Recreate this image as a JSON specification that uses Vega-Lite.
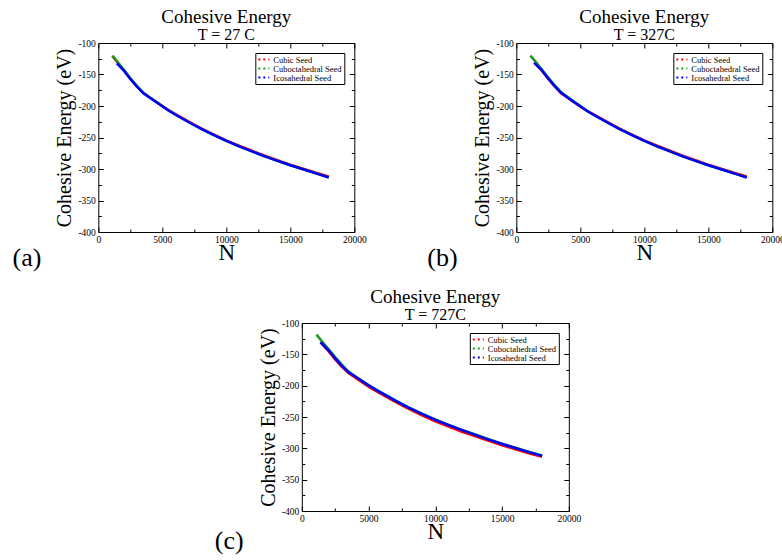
{
  "$schema": "https://vega.github.io/schema/vega-lite/v6.json",
  "padding": {"left": 12, "top": 7, "right": 0, "bottom": 0},
  "background": "white",
  "config": {"view": {"stroke": "black", "strokeWidth": 1}, "font": "Liberation Serif"},
  "datasets": {
    "a": [
      {"seed":"Cubic Seed","N":1100,"E":-121},{"seed":"Cubic Seed","N":1500,"E":-131},{"seed":"Cubic Seed","N":2000,"E":-143.5},{"seed":"Cubic Seed","N":2500,"E":-156.5},{"seed":"Cubic Seed","N":3000,"E":-168.5},{"seed":"Cubic Seed","N":3500,"E":-179},{"seed":"Cubic Seed","N":4000,"E":-186},{"seed":"Cubic Seed","N":4500,"E":-193},{"seed":"Cubic Seed","N":5000,"E":-200},{"seed":"Cubic Seed","N":5500,"E":-206.5},{"seed":"Cubic Seed","N":6000,"E":-212.5},{"seed":"Cubic Seed","N":7000,"E":-224},{"seed":"Cubic Seed","N":8000,"E":-235},{"seed":"Cubic Seed","N":9000,"E":-245},{"seed":"Cubic Seed","N":10000,"E":-254.5},{"seed":"Cubic Seed","N":11000,"E":-263},{"seed":"Cubic Seed","N":12000,"E":-271},{"seed":"Cubic Seed","N":13000,"E":-279},{"seed":"Cubic Seed","N":14000,"E":-286},{"seed":"Cubic Seed","N":15000,"E":-293},{"seed":"Cubic Seed","N":16000,"E":-299.5},{"seed":"Cubic Seed","N":17000,"E":-306},{"seed":"Cubic Seed","N":18000,"E":-312},
      {"seed":"Cuboctahedral Seed","N":1100,"E":-120},{"seed":"Cuboctahedral Seed","N":1500,"E":-130},{"seed":"Cuboctahedral Seed","N":2000,"E":-142.5},{"seed":"Cuboctahedral Seed","N":2500,"E":-155.5},{"seed":"Cuboctahedral Seed","N":3000,"E":-167.5},{"seed":"Cuboctahedral Seed","N":3500,"E":-178.5},{"seed":"Cuboctahedral Seed","N":4000,"E":-186},{"seed":"Cuboctahedral Seed","N":4500,"E":-193},{"seed":"Cuboctahedral Seed","N":5000,"E":-200},{"seed":"Cuboctahedral Seed","N":5500,"E":-207},{"seed":"Cuboctahedral Seed","N":6000,"E":-213.5},{"seed":"Cuboctahedral Seed","N":7000,"E":-225},{"seed":"Cuboctahedral Seed","N":8000,"E":-236},{"seed":"Cuboctahedral Seed","N":9000,"E":-246},{"seed":"Cuboctahedral Seed","N":10000,"E":-255.5},{"seed":"Cuboctahedral Seed","N":11000,"E":-264},{"seed":"Cuboctahedral Seed","N":12000,"E":-272},{"seed":"Cuboctahedral Seed","N":13000,"E":-280},{"seed":"Cuboctahedral Seed","N":14000,"E":-287},{"seed":"Cuboctahedral Seed","N":15000,"E":-294},{"seed":"Cuboctahedral Seed","N":16000,"E":-300.5},{"seed":"Cuboctahedral Seed","N":17000,"E":-307},{"seed":"Cuboctahedral Seed","N":18000,"E":-313},
      {"seed":"Icosahedral Seed","N":1450,"E":-132.5},{"seed":"Icosahedral Seed","N":2000,"E":-144},{"seed":"Icosahedral Seed","N":2500,"E":-157},{"seed":"Icosahedral Seed","N":3000,"E":-169},{"seed":"Icosahedral Seed","N":3500,"E":-179.5},{"seed":"Icosahedral Seed","N":4000,"E":-186.5},{"seed":"Icosahedral Seed","N":4500,"E":-193.5},{"seed":"Icosahedral Seed","N":5000,"E":-200.5},{"seed":"Icosahedral Seed","N":5500,"E":-207.5},{"seed":"Icosahedral Seed","N":6000,"E":-213.5},{"seed":"Icosahedral Seed","N":7000,"E":-225},{"seed":"Icosahedral Seed","N":8000,"E":-236},{"seed":"Icosahedral Seed","N":9000,"E":-246},{"seed":"Icosahedral Seed","N":10000,"E":-255.5},{"seed":"Icosahedral Seed","N":11000,"E":-264},{"seed":"Icosahedral Seed","N":12000,"E":-272},{"seed":"Icosahedral Seed","N":13000,"E":-280},{"seed":"Icosahedral Seed","N":14000,"E":-287},{"seed":"Icosahedral Seed","N":15000,"E":-294},{"seed":"Icosahedral Seed","N":16000,"E":-300.5},{"seed":"Icosahedral Seed","N":17000,"E":-307},{"seed":"Icosahedral Seed","N":18000,"E":-313.5}
    ],
    "b": [
      {"seed":"Cubic Seed","N":1400,"E":-131},{"seed":"Cubic Seed","N":2000,"E":-144},{"seed":"Cubic Seed","N":2500,"E":-157},{"seed":"Cubic Seed","N":3000,"E":-169},{"seed":"Cubic Seed","N":3500,"E":-180},{"seed":"Cubic Seed","N":4000,"E":-187},{"seed":"Cubic Seed","N":4500,"E":-194},{"seed":"Cubic Seed","N":5000,"E":-201},{"seed":"Cubic Seed","N":5500,"E":-207.5},{"seed":"Cubic Seed","N":6000,"E":-213},{"seed":"Cubic Seed","N":7000,"E":-224},{"seed":"Cubic Seed","N":8000,"E":-235},{"seed":"Cubic Seed","N":9000,"E":-245},{"seed":"Cubic Seed","N":10000,"E":-254.5},{"seed":"Cubic Seed","N":11000,"E":-263},{"seed":"Cubic Seed","N":12000,"E":-271},{"seed":"Cubic Seed","N":13000,"E":-279},{"seed":"Cubic Seed","N":14000,"E":-286},{"seed":"Cubic Seed","N":15000,"E":-293},{"seed":"Cubic Seed","N":16000,"E":-299.5},{"seed":"Cubic Seed","N":17000,"E":-306},{"seed":"Cubic Seed","N":18000,"E":-312},
      {"seed":"Cuboctahedral Seed","N":1100,"E":-120},{"seed":"Cuboctahedral Seed","N":1500,"E":-129.5},{"seed":"Cuboctahedral Seed","N":2000,"E":-142},{"seed":"Cuboctahedral Seed","N":2500,"E":-155},{"seed":"Cuboctahedral Seed","N":3000,"E":-167},{"seed":"Cuboctahedral Seed","N":3500,"E":-178},{"seed":"Cuboctahedral Seed","N":4000,"E":-185.5},{"seed":"Cuboctahedral Seed","N":4500,"E":-193},{"seed":"Cuboctahedral Seed","N":5000,"E":-200},{"seed":"Cuboctahedral Seed","N":5500,"E":-207},{"seed":"Cuboctahedral Seed","N":6000,"E":-213.5},{"seed":"Cuboctahedral Seed","N":7000,"E":-225},{"seed":"Cuboctahedral Seed","N":8000,"E":-236},{"seed":"Cuboctahedral Seed","N":9000,"E":-246},{"seed":"Cuboctahedral Seed","N":10000,"E":-255.5},{"seed":"Cuboctahedral Seed","N":11000,"E":-264},{"seed":"Cuboctahedral Seed","N":12000,"E":-272},{"seed":"Cuboctahedral Seed","N":13000,"E":-280},{"seed":"Cuboctahedral Seed","N":14000,"E":-287},{"seed":"Cuboctahedral Seed","N":15000,"E":-294},{"seed":"Cuboctahedral Seed","N":16000,"E":-300.5},{"seed":"Cuboctahedral Seed","N":17000,"E":-307},{"seed":"Cuboctahedral Seed","N":18000,"E":-313},
      {"seed":"Icosahedral Seed","N":1400,"E":-131.5},{"seed":"Icosahedral Seed","N":2000,"E":-143.5},{"seed":"Icosahedral Seed","N":2500,"E":-156.5},{"seed":"Icosahedral Seed","N":3000,"E":-168.5},{"seed":"Icosahedral Seed","N":3500,"E":-179},{"seed":"Icosahedral Seed","N":4000,"E":-186.5},{"seed":"Icosahedral Seed","N":4500,"E":-193.5},{"seed":"Icosahedral Seed","N":5000,"E":-200.5},{"seed":"Icosahedral Seed","N":5500,"E":-207.5},{"seed":"Icosahedral Seed","N":6000,"E":-213.5},{"seed":"Icosahedral Seed","N":7000,"E":-225},{"seed":"Icosahedral Seed","N":8000,"E":-236},{"seed":"Icosahedral Seed","N":9000,"E":-246},{"seed":"Icosahedral Seed","N":10000,"E":-255.5},{"seed":"Icosahedral Seed","N":11000,"E":-264},{"seed":"Icosahedral Seed","N":12000,"E":-272},{"seed":"Icosahedral Seed","N":13000,"E":-280},{"seed":"Icosahedral Seed","N":14000,"E":-287},{"seed":"Icosahedral Seed","N":15000,"E":-294},{"seed":"Icosahedral Seed","N":16000,"E":-300.5},{"seed":"Icosahedral Seed","N":17000,"E":-307},{"seed":"Icosahedral Seed","N":18000,"E":-313.5}
    ],
    "c": [
      {"seed":"Cubic Seed","N":1400,"E":-131},{"seed":"Cubic Seed","N":2000,"E":-145},{"seed":"Cubic Seed","N":2500,"E":-158},{"seed":"Cubic Seed","N":3000,"E":-170},{"seed":"Cubic Seed","N":3500,"E":-180},{"seed":"Cubic Seed","N":4000,"E":-187.5},{"seed":"Cubic Seed","N":4500,"E":-194.5},{"seed":"Cubic Seed","N":5000,"E":-201.5},{"seed":"Cubic Seed","N":5500,"E":-208},{"seed":"Cubic Seed","N":6000,"E":-214},{"seed":"Cubic Seed","N":7000,"E":-226},{"seed":"Cubic Seed","N":8000,"E":-237},{"seed":"Cubic Seed","N":9000,"E":-247.5},{"seed":"Cubic Seed","N":10000,"E":-257},{"seed":"Cubic Seed","N":11000,"E":-265.5},{"seed":"Cubic Seed","N":12000,"E":-273.5},{"seed":"Cubic Seed","N":13000,"E":-281},{"seed":"Cubic Seed","N":14000,"E":-288},{"seed":"Cubic Seed","N":15000,"E":-295},{"seed":"Cubic Seed","N":16000,"E":-301.5},{"seed":"Cubic Seed","N":17000,"E":-308},{"seed":"Cubic Seed","N":18000,"E":-313.5},
      {"seed":"Cuboctahedral Seed","N":1100,"E":-118.5},{"seed":"Cuboctahedral Seed","N":1500,"E":-129},{"seed":"Cuboctahedral Seed","N":2000,"E":-141.5},{"seed":"Cuboctahedral Seed","N":2500,"E":-154.5},{"seed":"Cuboctahedral Seed","N":3000,"E":-166.5},{"seed":"Cuboctahedral Seed","N":3500,"E":-177.5},{"seed":"Cuboctahedral Seed","N":4000,"E":-185},{"seed":"Cuboctahedral Seed","N":4500,"E":-192},{"seed":"Cuboctahedral Seed","N":5000,"E":-199},{"seed":"Cuboctahedral Seed","N":5500,"E":-205.5},{"seed":"Cuboctahedral Seed","N":6000,"E":-211.5},{"seed":"Cuboctahedral Seed","N":7000,"E":-223.5},{"seed":"Cuboctahedral Seed","N":8000,"E":-234.5},{"seed":"Cuboctahedral Seed","N":9000,"E":-244.5},{"seed":"Cuboctahedral Seed","N":10000,"E":-254},{"seed":"Cuboctahedral Seed","N":11000,"E":-262.5},{"seed":"Cuboctahedral Seed","N":12000,"E":-270.5},{"seed":"Cuboctahedral Seed","N":13000,"E":-278},{"seed":"Cuboctahedral Seed","N":14000,"E":-285.5},{"seed":"Cuboctahedral Seed","N":15000,"E":-292.5},{"seed":"Cuboctahedral Seed","N":16000,"E":-299},{"seed":"Cuboctahedral Seed","N":17000,"E":-305.5},{"seed":"Cuboctahedral Seed","N":18000,"E":-311.5},
      {"seed":"Icosahedral Seed","N":1400,"E":-130.5},{"seed":"Icosahedral Seed","N":2000,"E":-143.5},{"seed":"Icosahedral Seed","N":2500,"E":-156.5},{"seed":"Icosahedral Seed","N":3000,"E":-168.5},{"seed":"Icosahedral Seed","N":3500,"E":-178.5},{"seed":"Icosahedral Seed","N":4000,"E":-185.5},{"seed":"Icosahedral Seed","N":4500,"E":-192.5},{"seed":"Icosahedral Seed","N":5000,"E":-199.5},{"seed":"Icosahedral Seed","N":5500,"E":-206},{"seed":"Icosahedral Seed","N":6000,"E":-212},{"seed":"Icosahedral Seed","N":7000,"E":-224},{"seed":"Icosahedral Seed","N":8000,"E":-235},{"seed":"Icosahedral Seed","N":9000,"E":-245},{"seed":"Icosahedral Seed","N":10000,"E":-254.5},{"seed":"Icosahedral Seed","N":11000,"E":-263},{"seed":"Icosahedral Seed","N":12000,"E":-271},{"seed":"Icosahedral Seed","N":13000,"E":-278.5},{"seed":"Icosahedral Seed","N":14000,"E":-286},{"seed":"Icosahedral Seed","N":15000,"E":-293},{"seed":"Icosahedral Seed","N":16000,"E":-299.5},{"seed":"Icosahedral Seed","N":17000,"E":-306},{"seed":"Icosahedral Seed","N":18000,"E":-312}
    ]
  },
  "vconcat": [
    {
      "hconcat": [
        {
          "width": 256, "height": 189,
          "data": {"name": "a"},
          "title": {"text": "Cohesive Energy", "subtitle": "T = 27 C", "font": "Liberation Serif", "fontSize": 19, "fontWeight": "normal", "color": "black", "subtitleFont": "Liberation Serif", "subtitleFontSize": 16, "subtitleColor": "black", "anchor": "middle", "frame": "group", "offset": -5, "subtitlePadding": 0},
          "layer": [
            {
              "mark": {"type": "line", "strokeWidth": 2.5},
              "encoding": {
                "x": {"field": "N", "type": "quantitative", "scale": {"domain": [0, 20000], "nice": false, "zero": false},
                  "axis": {"orient": "bottom", "values": [0,2500,5000,7500,10000,12500,15000,17500,20000], "labelExpr": "datum.value % 5000 == 0 ? '' + datum.value : ''", "labelOverlap": false, "labelFlush": false, "labelFont": "Liberation Serif", "labelFontSize": 9.5, "labelColor": "black", "labelPadding": 7, "tickSize": {"condition": {"test": "datum.value % 5000 == 0", "value": -5}, "value": -3}, "tickColor": "black", "domain": false, "grid": false, "title": "N", "titleFont": "Liberation Serif", "titleFontSize": 23, "titleFontWeight": "normal", "titleColor": "black", "titlePadding": -4}},
                "y": {"field": "E", "type": "quantitative", "scale": {"domain": [-400, -100], "nice": false, "zero": false},
                  "axis": {"orient": "left", "values": [-400,-375,-350,-325,-300,-275,-250,-225,-200,-175,-150,-125,-100], "labelExpr": "datum.value % 50 == 0 ? '' + datum.value : ''", "labelOverlap": false, "labelFlush": false, "labelFont": "Liberation Serif", "labelFontSize": 9.5, "labelColor": "black", "labelPadding": 8, "tickSize": {"condition": {"test": "datum.value % 50 == 0", "value": -5}, "value": -3}, "tickColor": "black", "domain": false, "grid": false, "title": "Cohesive Energy (eV)", "titleFont": "Liberation Serif", "titleFontSize": 20, "titleFontWeight": "normal", "titleColor": "black", "titlePadding": 3}},
                "color": {"field": "seed", "type": "nominal", "sort": null, "scale": {"domain": ["Cubic Seed", "Cuboctahedral Seed", "Icosahedral Seed"], "range": ["#ff0000", "#1a9a1a", "#0000ff"]},
                  "legend": {"orient": "top-right", "offset": 10, "title": null, "strokeColor": "black", "fillColor": "white", "padding": 2, "labelFont": "Liberation Serif", "labelFontSize": 8.5, "labelColor": "black", "symbolType": "stroke", "symbolStrokeWidth": 2, "symbolDash": [2, 3], "symbolSize": 121, "clipHeight": 9, "rowPadding": 0, "labelOffset": 3}}
              }
            },
            {
              "mark": {"type": "line", "opacity": 0},
              "encoding": {
                "x": {"field": "N", "type": "quantitative", "scale": {"domain": [0, 20000], "nice": false, "zero": false},
                  "axis": {"orient": "top", "values": [0,2500,5000,7500,10000,12500,15000,17500,20000], "labels": false, "tickSize": {"condition": {"test": "datum.value % 5000 == 0", "value": -5}, "value": -3}, "tickColor": "black", "domain": false, "grid": false, "title": null}},
                "y": {"field": "E", "type": "quantitative", "scale": {"domain": [-400, -100], "nice": false, "zero": false},
                  "axis": {"orient": "right", "values": [-400,-375,-350,-325,-300,-275,-250,-225,-200,-175,-150,-125,-100], "labels": false, "tickSize": {"condition": {"test": "datum.value % 50 == 0", "value": -5}, "value": -3}, "tickColor": "black", "domain": false, "grid": false, "title": null}},
                "detail": {"field": "seed"}
              }
            },
            {
              "data": {"values": [{"label": "(a)"}]},
              "mark": {"type": "text", "font": "Liberation Serif", "fontSize": 26, "align": "left", "baseline": "middle", "color": "black"},
              "encoding": {
                "x": {"datum": -6700, "type": "quantitative", "scale": {"domain": [0, 20000], "nice": false, "zero": false}, "axis": null},
                "y": {"datum": -441, "type": "quantitative", "scale": {"domain": [-400, -100], "nice": false, "zero": false}, "axis": null},
                "text": {"field": "label"}
              }
            }
          ],
          "resolve": {"axis": {"x": "independent", "y": "independent"}}
        },
        {
          "width": 256, "height": 189,
          "data": {"name": "b"},
          "title": {"text": "Cohesive Energy", "subtitle": "T = 327C", "font": "Liberation Serif", "fontSize": 19, "fontWeight": "normal", "color": "black", "subtitleFont": "Liberation Serif", "subtitleFontSize": 16, "subtitleColor": "black", "anchor": "middle", "frame": "group", "offset": -5, "subtitlePadding": 0},
          "layer": [
            {
              "mark": {"type": "line", "strokeWidth": 2.5},
              "encoding": {
                "x": {"field": "N", "type": "quantitative", "scale": {"domain": [0, 20000], "nice": false, "zero": false},
                  "axis": {"orient": "bottom", "values": [0,2500,5000,7500,10000,12500,15000,17500,20000], "labelExpr": "datum.value % 5000 == 0 ? '' + datum.value : ''", "labelOverlap": false, "labelFlush": false, "labelFont": "Liberation Serif", "labelFontSize": 9.5, "labelColor": "black", "labelPadding": 7, "tickSize": {"condition": {"test": "datum.value % 5000 == 0", "value": -5}, "value": -3}, "tickColor": "black", "domain": false, "grid": false, "title": "N", "titleFont": "Liberation Serif", "titleFontSize": 23, "titleFontWeight": "normal", "titleColor": "black", "titlePadding": -4}},
                "y": {"field": "E", "type": "quantitative", "scale": {"domain": [-400, -100], "nice": false, "zero": false},
                  "axis": {"orient": "left", "values": [-400,-375,-350,-325,-300,-275,-250,-225,-200,-175,-150,-125,-100], "labelExpr": "datum.value % 50 == 0 ? '' + datum.value : ''", "labelOverlap": false, "labelFlush": false, "labelFont": "Liberation Serif", "labelFontSize": 9.5, "labelColor": "black", "labelPadding": 8, "tickSize": {"condition": {"test": "datum.value % 50 == 0", "value": -5}, "value": -3}, "tickColor": "black", "domain": false, "grid": false, "title": "Cohesive Energy (eV)", "titleFont": "Liberation Serif", "titleFontSize": 20, "titleFontWeight": "normal", "titleColor": "black", "titlePadding": 3}},
                "color": {"field": "seed", "type": "nominal", "sort": null, "scale": {"domain": ["Cubic Seed", "Cuboctahedral Seed", "Icosahedral Seed"], "range": ["#ff0000", "#1a9a1a", "#0000ff"]},
                  "legend": {"orient": "top-right", "offset": 10, "title": null, "strokeColor": "black", "fillColor": "white", "padding": 2, "labelFont": "Liberation Serif", "labelFontSize": 8.5, "labelColor": "black", "symbolType": "stroke", "symbolStrokeWidth": 2, "symbolDash": [2, 3], "symbolSize": 121, "clipHeight": 9, "rowPadding": 0, "labelOffset": 3}}
              }
            },
            {
              "mark": {"type": "line", "opacity": 0},
              "encoding": {
                "x": {"field": "N", "type": "quantitative", "scale": {"domain": [0, 20000], "nice": false, "zero": false},
                  "axis": {"orient": "top", "values": [0,2500,5000,7500,10000,12500,15000,17500,20000], "labels": false, "tickSize": {"condition": {"test": "datum.value % 5000 == 0", "value": -5}, "value": -3}, "tickColor": "black", "domain": false, "grid": false, "title": null}},
                "y": {"field": "E", "type": "quantitative", "scale": {"domain": [-400, -100], "nice": false, "zero": false},
                  "axis": {"orient": "right", "values": [-400,-375,-350,-325,-300,-275,-250,-225,-200,-175,-150,-125,-100], "labels": false, "tickSize": {"condition": {"test": "datum.value % 50 == 0", "value": -5}, "value": -3}, "tickColor": "black", "domain": false, "grid": false, "title": null}},
                "detail": {"field": "seed"}
              }
            },
            {
              "data": {"values": [{"label": "(b)"}]},
              "mark": {"type": "text", "font": "Liberation Serif", "fontSize": 26, "align": "left", "baseline": "middle", "color": "black"},
              "encoding": {
                "x": {"datum": -6950, "type": "quantitative", "scale": {"domain": [0, 20000], "nice": false, "zero": false}, "axis": null},
                "y": {"datum": -441, "type": "quantitative", "scale": {"domain": [-400, -100], "nice": false, "zero": false}, "axis": null},
                "text": {"field": "label"}
              }
            }
          ],
          "resolve": {"axis": {"x": "independent", "y": "independent"}}
        }
      ],
      "spacing": 59,
      "resolve": {"scale": {"color": "independent"}, "legend": {"color": "independent"}}
    },
    {
      "width": 267, "height": 188,
      "data": {"name": "c"},
      "title": {"text": "Cohesive Energy", "subtitle": "T = 727C", "font": "Liberation Serif", "fontSize": 19, "fontWeight": "normal", "color": "black", "subtitleFont": "Liberation Serif", "subtitleFontSize": 16, "subtitleColor": "black", "anchor": "middle", "frame": "group", "offset": -5, "subtitlePadding": 0},
      "layer": [
        {
          "mark": {"type": "line", "strokeWidth": 2.5},
          "encoding": {
            "x": {"field": "N", "type": "quantitative", "scale": {"domain": [0, 20000], "nice": false, "zero": false},
              "axis": {"orient": "bottom", "values": [0,2500,5000,7500,10000,12500,15000,17500,20000], "labelExpr": "datum.value % 5000 == 0 ? '' + datum.value : ''", "labelOverlap": false, "labelFlush": false, "labelFont": "Liberation Serif", "labelFontSize": 9.5, "labelColor": "black", "labelPadding": 7, "tickSize": {"condition": {"test": "datum.value % 5000 == 0", "value": -5}, "value": -3}, "tickColor": "black", "domain": false, "grid": false, "title": "N", "titleFont": "Liberation Serif", "titleFontSize": 23, "titleFontWeight": "normal", "titleColor": "black", "titlePadding": -4}},
            "y": {"field": "E", "type": "quantitative", "scale": {"domain": [-400, -100], "nice": false, "zero": false},
              "axis": {"orient": "left", "values": [-400,-375,-350,-325,-300,-275,-250,-225,-200,-175,-150,-125,-100], "labelExpr": "datum.value % 50 == 0 ? '' + datum.value : ''", "labelOverlap": false, "labelFlush": false, "labelFont": "Liberation Serif", "labelFontSize": 9.5, "labelColor": "black", "labelPadding": 8, "tickSize": {"condition": {"test": "datum.value % 50 == 0", "value": -5}, "value": -3}, "tickColor": "black", "domain": false, "grid": false, "title": "Cohesive Energy (eV)", "titleFont": "Liberation Serif", "titleFontSize": 20, "titleFontWeight": "normal", "titleColor": "black", "titlePadding": 3}},
            "color": {"field": "seed", "type": "nominal", "sort": null, "scale": {"domain": ["Cubic Seed", "Cuboctahedral Seed", "Icosahedral Seed"], "range": ["#ff0000", "#1a9a1a", "#0000ff"]},
              "legend": {"orient": "top-right", "offset": 10, "title": null, "strokeColor": "black", "fillColor": "white", "padding": 2, "labelFont": "Liberation Serif", "labelFontSize": 8.5, "labelColor": "black", "symbolType": "stroke", "symbolStrokeWidth": 2, "symbolDash": [2, 3], "symbolSize": 121, "clipHeight": 9, "rowPadding": 0, "labelOffset": 3}}
          }
        },
        {
          "mark": {"type": "line", "opacity": 0},
          "encoding": {
            "x": {"field": "N", "type": "quantitative", "scale": {"domain": [0, 20000], "nice": false, "zero": false},
              "axis": {"orient": "top", "values": [0,2500,5000,7500,10000,12500,15000,17500,20000], "labels": false, "tickSize": {"condition": {"test": "datum.value % 5000 == 0", "value": -5}, "value": -3}, "tickColor": "black", "domain": false, "grid": false, "title": null}},
            "y": {"field": "E", "type": "quantitative", "scale": {"domain": [-400, -100], "nice": false, "zero": false},
              "axis": {"orient": "right", "values": [-400,-375,-350,-325,-300,-275,-250,-225,-200,-175,-150,-125,-100], "labels": false, "tickSize": {"condition": {"test": "datum.value % 50 == 0", "value": -5}, "value": -3}, "tickColor": "black", "domain": false, "grid": false, "title": null}},
            "detail": {"field": "seed"}
          }
        },
        {
          "data": {"values": [{"label": "(c)"}]},
          "mark": {"type": "text", "font": "Liberation Serif", "fontSize": 26, "align": "left", "baseline": "middle", "color": "black"},
          "encoding": {
            "x": {"datum": -6520, "type": "quantitative", "scale": {"domain": [0, 20000], "nice": false, "zero": false}, "axis": null},
            "y": {"datum": -448, "type": "quantitative", "scale": {"domain": [-400, -100], "nice": false, "zero": false}, "axis": null},
            "text": {"field": "label"}
          }
        }
      ],
      "resolve": {"axis": {"x": "independent", "y": "independent"}}
    }
  ],
  "spacing": 15,
  "center": true,
  "resolve": {"scale": {"color": "independent"}, "legend": {"color": "independent"}}
}
